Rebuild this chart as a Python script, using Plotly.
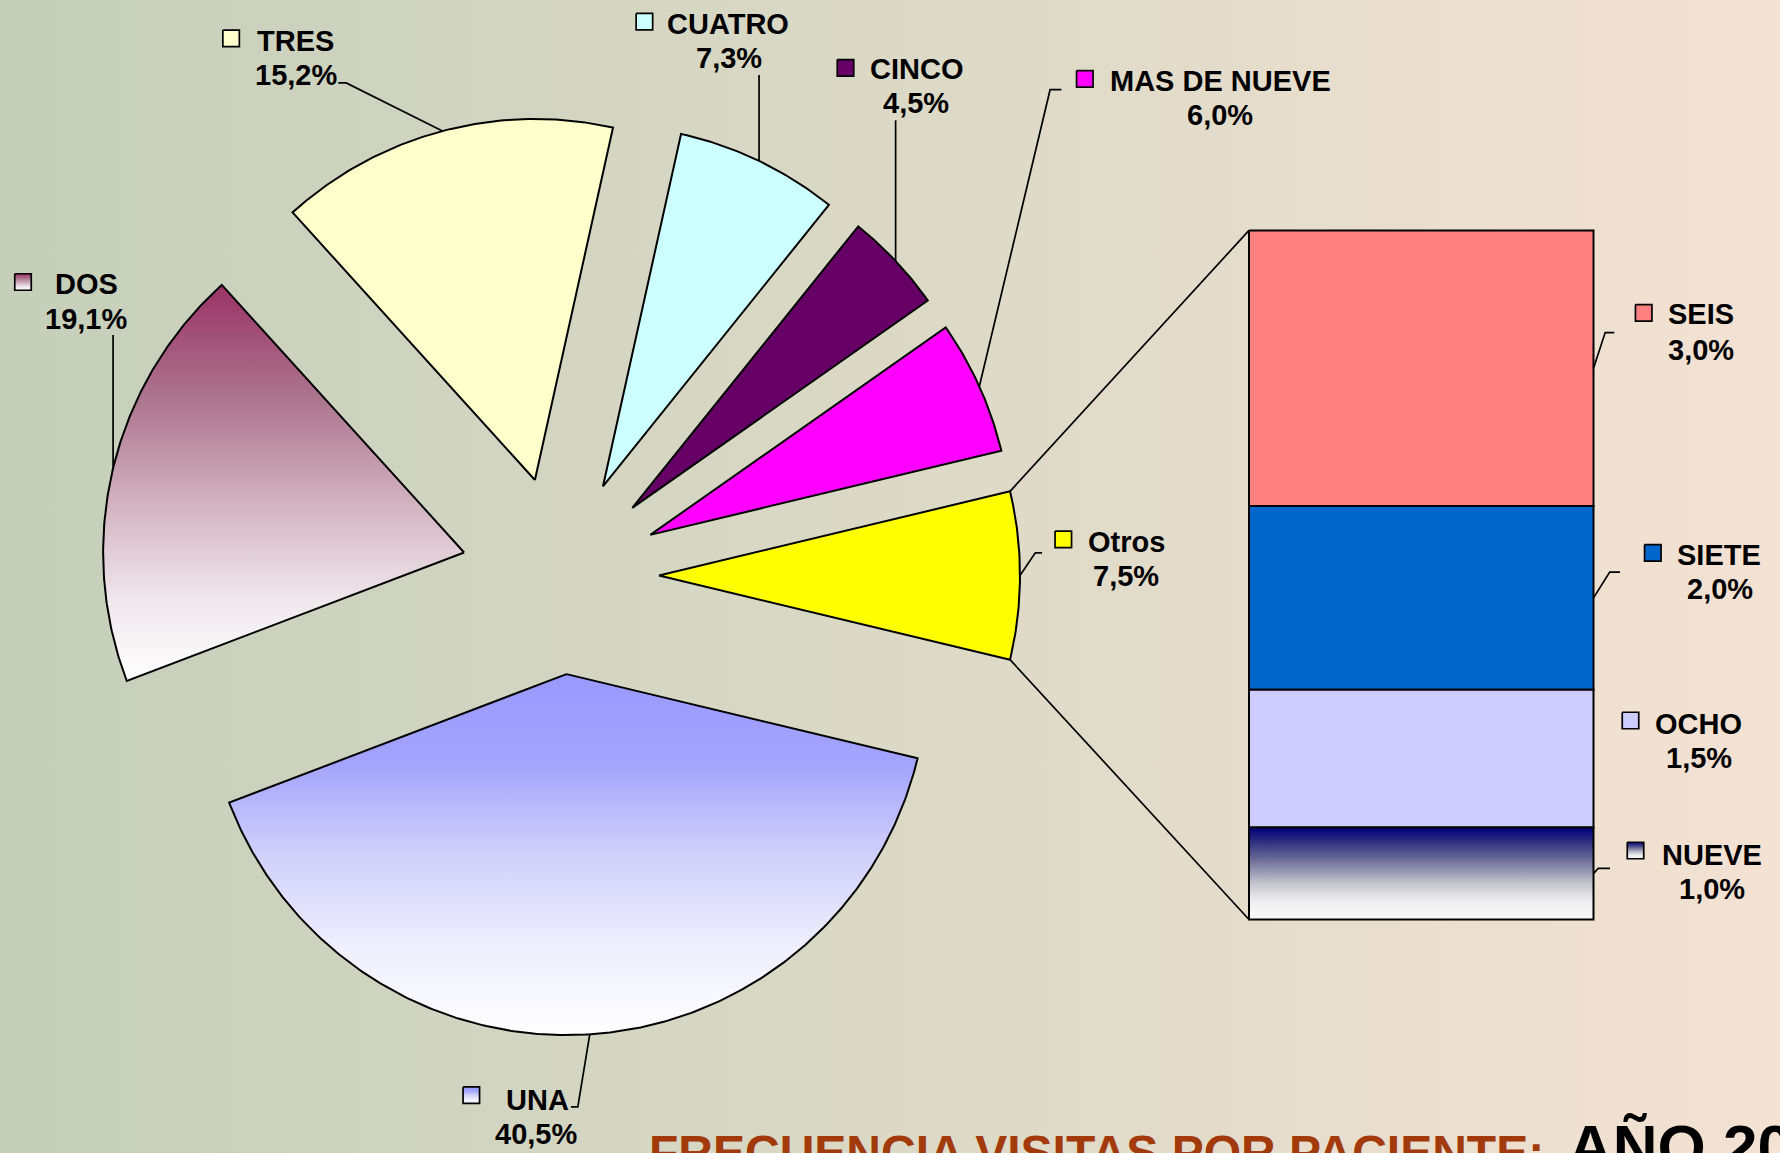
import math
import plotly.graph_objects as go

W, H = 1780, 1153

# ---------------- data ----------------
pie_labels = ["UNA", "DOS", "TRES", "CUATRO", "CINCO", "MAS DE NUEVE"]
pie_values = [40.5, 19.1, 15.2, 7.3, 4.5, 6.0]
bar_labels = ["SEIS", "SIETE", "OCHO", "NUEVE"]
bar_values = [3.0, 2.0, 1.5, 1.0]
other_label = "Otros"
title_main = "FRECUENCIA VISITAS POR PACIENTE:"
title_year = "AÑO 20"

other_value = sum(bar_values)

# ---------------- styles ----------------
FILL = {
    "UNA": [[0, "#9999ff"], [0.25, "#a4a4fd"], [0.5, "#d0d0fb"], [0.75, "#eeeefd"], [1, "#ffffff"]],
    "DOS": [[0, "#993366"], [0.3, "#ae7890"], [0.55, "#d2b2c0"], [0.8, "#efe8ec"], [1, "#ffffff"]],
    "TRES": "#ffffcc",
    "CUATRO": "#ccffff",
    "CINCO": "#660066",
    "MAS DE NUEVE": "#ff00ff",
    "Otros": "#ffff00",
    "SEIS": "#ff8080",
    "SIETE": "#0066cc",
    "OCHO": "#ccccff",
    "NUEVE": [[0, "#000080"], [0.12, "#24247e"], [0.35, "#6c6c98"], [0.6, "#c2c2cc"], [0.8, "#eeeef0"], [1, "#fbfbfb"]],
}
BG_SCALE = [[0, "#c5cfba"], [0.5, "#dbd9c6"], [1, "#f4e2d3"]]
FONT = "Liberation Sans, Arial, sans-serif"
LBL_SIZE = 29

# ---------------- layout geometry (pixels) ----------------
CX, CY, R, PULL = 560.2, 575.5, 361.0, 98.8
BAR_X0, BAR_X1, BAR_Y0, BAR_Y1 = 1249.0, 1593.5, 230.4, 919.5

# label placement: name centre, percent centre, key centre, leader tail points
LABEL_POS = {
    "TRES": ((295.7, 40.9), (296.3, 74.9), (231.1, 38.3), [(346.2, 82.9), (338.3, 82.9)]),
    "CUATRO": ((728.2, 23.8), (728.8, 57.9), (644.4, 21.7), [(None, 74.9)]),
    "CINCO": ((916.1, 69.2), (916.1, 103.3), (845.5, 67.8), [(None, 120.3)]),
    "MAS DE NUEVE": ((1220.3, 80.6), (1220.3, 114.7), (1084.8, 78.8), [(1050.1, 89.7), (1061.4, 89.7)]),
    "DOS": ((86.0, 283.8), (86.0, 319.2), (23.0, 282.0), [(None, 334.9)]),
    "UNA": ((537.5, 1100.0), (535.8, 1134.0), (471.3, 1095.2), [(577.8, 1106.8), (571.0, 1106.8)]),
    "Otros": ((1126.1, 541.5), (1126.1, 575.5), (1063.3, 539.3), [(1035.3, 552.8), (1042.1, 552.8)]),
    "SEIS": ((1700.5, 314.4), (1700.5, 349.6), (1643.7, 312.8), [(1605.2, 332.6), (1614.3, 332.6)]),
    "SIETE": ((1718.7, 555.1), (1719.8, 589.2), (1652.8, 552.8), [(1609.7, 572.1), (1620.0, 572.1)]),
    "OCHO": ((1698.3, 724.3), (1699.4, 758.3), (1630.5, 720.5), []),
    "NUEVE": ((1711.9, 854.8), (1711.9, 888.9), (1635.5, 850.5), [(1598.3, 868.3), (1610.0, 868.3)]),
}
KEY = 16.5


def pct(v):
    return f"{v:.1f}%".replace(".", ",")


def poly(xs, ys, fill, width=2.0):
    kw = dict(x=xs, y=ys, mode="lines", fill="toself",
              line=dict(color="black", width=width),
              hoverinfo="skip", showlegend=False)
    if isinstance(fill, str):
        kw["fillcolor"] = fill
    else:
        kw["fillgradient"] = dict(type="vertical", colorscale=fill,
                                  start=min(ys), stop=max(ys))
    return go.Scatter(**kw)


def line(xs, ys, width=1.7):
    return go.Scatter(x=xs, y=ys, mode="lines", line=dict(color="black", width=width),
                      hoverinfo="skip", showlegend=False)


fig = go.Figure()

# background gradient
fig.add_trace(go.Scatter(x=[0, W, W, 0, 0], y=[0, 0, H, H, 0], mode="lines", fill="toself",
                         line=dict(width=0, color="rgba(0,0,0,0)"),
                         fillgradient=dict(type="horizontal", colorscale=BG_SCALE, start=0, stop=W),
                         hoverinfo="skip", showlegend=False))

# ---------------- pie slices (exploded, clockwise) ----------------
total = sum(pie_values) + other_value
other_deg = other_value / total * 360.0
a = 360.0 - other_deg / 2.0
slices = []
for lab, v in zip(pie_labels, pie_values):
    d = v / total * 360.0
    slices.append((lab, v, a - d, a))
    a -= d
slices.append((other_label, other_value, a - other_deg, a))

arc_pts = {}
other_geom = None
for lab, v, a0, a1 in slices:
    mid = math.radians((a0 + a1) / 2.0)
    cx = CX + PULL * math.cos(mid)
    cy = CY - PULL * math.sin(mid)
    n = int(abs(a1 - a0) * 2) + 4
    xs, ys = [cx], [cy]
    for i in range(n + 1):
        t = math.radians(a0 + (a1 - a0) * i / n)
        xs.append(cx + R * math.cos(t))
        ys.append(cy - R * math.sin(t))
    xs.append(cx)
    ys.append(cy)
    fig.add_trace(poly(xs, ys, FILL[lab]))
    arc_pts[lab] = (cx + R * math.cos(mid), cy - R * math.sin(mid))
    if lab == other_label:
        other_geom = (cx, cy, a0, a1)

# ---------------- bar of pie ----------------
scale = (BAR_Y1 - BAR_Y0) / other_value
cum = 0.0
bar_mid = {}
for lab, v in zip(bar_labels, bar_values):
    y0 = BAR_Y0 + cum * scale
    y1 = BAR_Y0 + (cum + v) * scale
    fig.add_trace(poly([BAR_X0, BAR_X1, BAR_X1, BAR_X0, BAR_X0], [y0, y0, y1, y1, y0], FILL[lab]))
    bar_mid[lab] = (BAR_X1, (y0 + y1) / 2.0)
    cum += v

# connectors pie -> bar
ocx, ocy, oa0, oa1 = other_geom
top_pt = (ocx + R * math.cos(math.radians(oa1)), ocy - R * math.sin(math.radians(oa1)))
bot_pt = (ocx + R * math.cos(math.radians(oa0)), ocy - R * math.sin(math.radians(oa0)))
fig.add_trace(line([top_pt[0], BAR_X0], [top_pt[1], BAR_Y0]))
fig.add_trace(line([bot_pt[0], BAR_X0], [bot_pt[1], BAR_Y1]))

# ---------------- labels ----------------
values = dict(zip(pie_labels, pie_values))
values.update(dict(zip(bar_labels, bar_values)))
values[other_label] = other_value
anchors = dict(arc_pts)
anchors.update(bar_mid)

annotations = []
for lab, (npos, ppos, kpos, tail) in LABEL_POS.items():
    # leader line
    if tail:
        sx, sy = anchors[lab]
        xs, ys = [sx], [sy]
        for tx, ty in tail:
            xs.append(sx if tx is None else tx)
            ys.append(ty)
        fig.add_trace(line(xs, ys))
    # key
    kx, ky = kpos
    h = KEY / 2
    fig.add_trace(poly([kx - h, kx + h, kx + h, kx - h, kx - h],
                       [ky - h, ky - h, ky + h, ky + h, ky - h], FILL[lab], width=1.7))
    annotations.append(dict(x=npos[0], y=npos[1], xref="x", yref="y", text=lab, showarrow=False,
                            xanchor="center", yanchor="middle",
                            font=dict(family=FONT, size=LBL_SIZE, color="black", weight="bold")))
    annotations.append(dict(x=ppos[0], y=ppos[1], xref="x", yref="y", text=pct(values[lab]),
                            showarrow=False, xanchor="center", yanchor="middle",
                            font=dict(family=FONT, size=LBL_SIZE, color="black", weight="bold")))

# title (cut off at the bottom edge as in the source)
annotations.append(dict(x=647 / W, y=1 - 1152 / H, xref="paper", yref="paper", text=title_main,
                        showarrow=False, xanchor="left", yanchor="middle",
                        font=dict(family=FONT, size=48, color="#a33a0c", weight="bold")))
annotations.append(dict(x=1566 / W, y=1 - 1146 / H, xref="paper", yref="paper", text=title_year,
                        showarrow=False, xanchor="left", yanchor="middle",
                        font=dict(family=FONT, size=62, color="black", weight="bold")))

fig.update_layout(
    width=W, height=H,
    margin=dict(l=0, r=0, t=0, b=0),
    paper_bgcolor="#dbd9c6", plot_bgcolor="#dbd9c6",
    xaxis=dict(range=[0, W], visible=False, fixedrange=True),
    yaxis=dict(range=[H, 0], visible=False, fixedrange=True),
    annotations=annotations,
    showlegend=False,
)

fig.write_html("out.html", config={"displayModeBar": False},
               post_script="document.body.style.margin='0';document.body.style.overflow='hidden';")
